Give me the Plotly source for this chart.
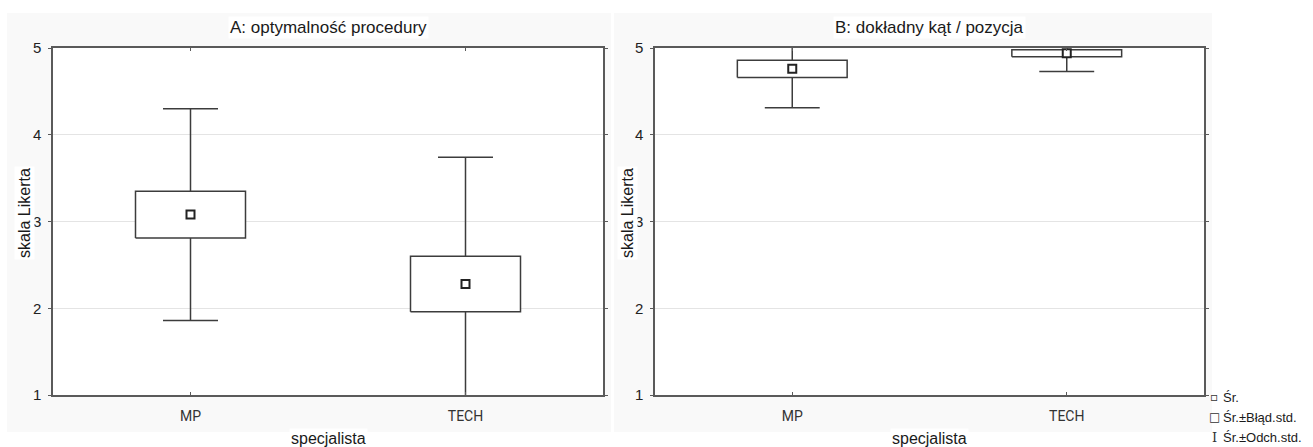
import plotly.graph_objects as go

# Categories and summary statistics (Likert scale, 1-5)
categories = ["MP", "TECH"]
cat_pos = [1, 2]

# Panel A: optymalność procedury
mean_a = [3.08, 2.28]
se_a = [0.27, 0.32]
sd_a = [1.22, 1.46]

# Panel B: dokładny kąt / pozycja
mean_b = [4.76, 4.94]
se_b = [0.10, 0.04]
sd_b = [0.45, 0.21]

panel_titles = ["A: optymalność procedury", "B: dokładny kąt / pozycja"]
y_ticks = [1, 2, 3, 4, 5]
legend_labels = ["Śr.", "Śr.±Błąd.std.", "Śr.±Odch.std."]

W, H = 1313, 447
LINE = "#3c3c3c"
AXIS = "#5a5a5a"
TXT = "#1a1a1a"
FONT = "Liberation Sans"
BOX_HALF = 0.2  # half width of the SE box, in category units


def px(x):
    return x / W


def py(y):
    return 1 - y / H


fig = go.Figure()

panels = [
    ("x", "y", mean_a, se_a, sd_a),
    ("x2", "y2", mean_b, se_b, sd_b),
]

for xa, ya, m, se, sd in panels:
    # whiskers: mean ± standard deviation (box part collapsed onto the mean)
    fig.add_trace(go.Box(
        x=cat_pos,
        q1=m, median=m, q3=m,
        lowerfence=[a - b for a, b in zip(m, sd)],
        upperfence=[a + b for a, b in zip(m, sd)],
        width=2 * BOX_HALF,
        whiskerwidth=0.5,
        fillcolor="white",
        line=dict(color=LINE, width=1.5),
        boxpoints=False,
        showlegend=False,
        hoverinfo="skip",
        xaxis=xa, yaxis=ya,
    ))

    # boxes: mean ± standard error, as filled closed outlines
    bx, by = [], []
    for c, mu, s in zip(cat_pos, m, se):
        bx += [c - BOX_HALF, c + BOX_HALF, c + BOX_HALF, c - BOX_HALF, c - BOX_HALF, None]
        by += [mu - s, mu - s, mu + s, mu + s, mu - s, None]
    fig.add_trace(go.Scatter(
        x=bx, y=by,
        mode="lines",
        fill="toself",
        fillcolor="white",
        line=dict(color=LINE, width=1.5),
        showlegend=False,
        hoverinfo="skip",
        xaxis=xa, yaxis=ya,
    ))

    # mean markers
    fig.add_trace(go.Scatter(
        x=cat_pos, y=m,
        mode="markers",
        marker=dict(symbol="square", size=8, color="white",
                    line=dict(color="#222222", width=2)),
        showlegend=False,
        hoverinfo="skip",
        xaxis=xa, yaxis=ya,
    ))

y_dom = [py(395), py(48)]
x_doms = [[px(53), px(603)], [px(655), px(1204)]]

xaxis_common = dict(
    range=[0.5, 2.5],
    tickvals=cat_pos,
    ticktext=categories,
    ticks="inside",
    ticklen=3,
    tickcolor=AXIS,
    showline=True,
    linecolor=AXIS,
    linewidth=1.5,
    mirror="ticks",
    showgrid=False,
    zeroline=False,
    tickfont=dict(family="Roboto", size=14, color="#333333"),
    ticklabelstandoff=7,
    fixedrange=True,
)
yaxis_common = dict(
    range=[1, 5],
    tickvals=y_ticks,
    ticks="outside",
    ticklen=3,
    tickcolor=AXIS,
    showline=True,
    linecolor=AXIS,
    linewidth=1.5,
    mirror="ticks",
    showgrid=True,
    gridcolor="#e4e4e4",
    gridwidth=1,
    zeroline=False,
    tickfont=dict(family=FONT, size=15, color="#222222"),
    ticklabelstandoff=4,
    fixedrange=True,
    domain=y_dom,
)

fig.update_layout(
    width=W, height=H,
    margin=dict(l=0, r=0, t=0, b=0, autoexpand=False),
    paper_bgcolor="white",
    plot_bgcolor="white",
    xaxis=dict(domain=x_doms[0], anchor="y", **xaxis_common),
    yaxis=dict(anchor="x", **yaxis_common),
    xaxis2=dict(domain=x_doms[1], anchor="y2", **xaxis_common),
    yaxis2=dict(anchor="x2", **yaxis_common),
    showlegend=False,
)

# light panel backgrounds, with white plotting areas on top
shapes = [
    dict(type="rect", xref="paper", yref="paper", layer="below",
         x0=px(7), x1=px(611), y0=py(432), y1=py(13),
         fillcolor="#f9f9f9", line=dict(width=0)),
    dict(type="rect", xref="paper", yref="paper", layer="below",
         x0=px(614), x1=px(1212), y0=py(432), y1=py(13),
         fillcolor="#f9f9f9", line=dict(width=0)),
]
for xd in x_doms:
    shapes.append(dict(type="rect", xref="paper", yref="paper", layer="below",
                       x0=xd[0], x1=xd[1], y0=y_dom[0], y1=y_dom[1],
                       fillcolor="white", line=dict(width=0)))
fig.update_layout(shapes=shapes)

annotations = []
centers = [328, 929]
ytitle_x = [24, 627]
for i in range(2):
    annotations.append(dict(
        text=panel_titles[i], xref="paper", yref="paper",
        x=px(centers[i]), y=py(27), xanchor="center", yanchor="middle",
        showarrow=False, bgcolor="white",
        font=dict(family=FONT, size=17, color=TXT)))
    annotations.append(dict(
        text="specjalista", xref="paper", yref="paper",
        x=px(centers[i]), y=py(438), xanchor="center", yanchor="middle",
        showarrow=False, bgcolor="white",
        font=dict(family=FONT, size=16, color=TXT)))
    annotations.append(dict(
        text="skala Likerta", xref="paper", yref="paper",
        x=px(ytitle_x[i]), y=py(213), xanchor="center", yanchor="middle",
        textangle=-90, showarrow=False, bgcolor="white",
        font=dict(family=FONT, size=16, color=TXT)))

# legend
legend_glyphs = ["▫", "□",
                 "<span style='font-family:DejaVu Serif'>I</span>"]
legend_glyph_sizes = [12, 12, 13]
legend_rows = [397, 417, 437]
for lbl, g, gs, yy in zip(legend_labels, legend_glyphs, legend_glyph_sizes, legend_rows):
    annotations.append(dict(
        text=g, xref="paper", yref="paper",
        x=px(1214), y=py(yy), xanchor="center", yanchor="middle",
        showarrow=False, font=dict(family="DejaVu Sans", size=gs, color="#333333")))
    annotations.append(dict(
        text=lbl, xref="paper", yref="paper",
        x=px(1221), y=py(yy), xanchor="left", yanchor="middle",
        showarrow=False, font=dict(family=FONT, size=13, color=TXT)))

fig.update_layout(annotations=annotations)

fig.write_html("out.html")
